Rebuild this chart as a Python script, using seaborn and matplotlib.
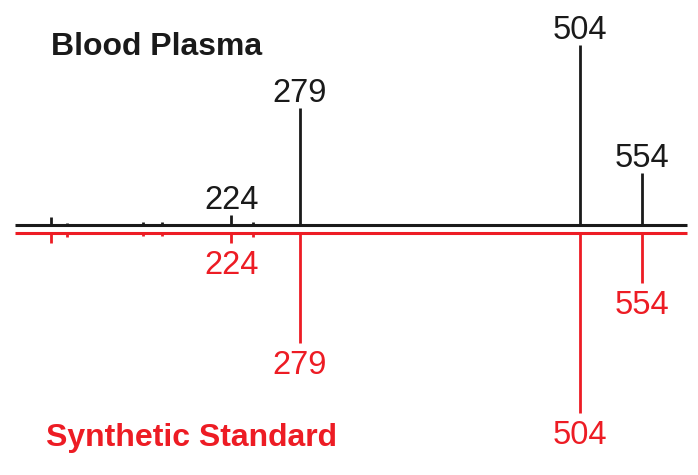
import matplotlib
matplotlib.use("Agg")
import matplotlib.pyplot as plt
import seaborn as sns
import numpy as np

# m/z range of the spectrum baseline
mz_range = [50, 590]

# Blood plasma spectrum (relative intensity, %)
plasma_mz = [79, 92, 122, 153, 168, 224, 241, 279, 504, 554]
plasma_int = [4.4, 1.1, 0.6, 1.7, 1.7, 5.6, 1.7, 65, 100, 29]

# Synthetic standard spectrum (relative intensity, %), drawn downwards
standard_mz = [79, 92, 153, 168, 224, 241, 279, 504, 554]
standard_int = [5.5, 2.2, 1.6, 1.6, 5.5, 2.0, 61, 100, 28]

labelled = [224, 279, 504, 554]

black = "#1a1a1a"
red = "#ED1C24"

sns.set_theme(style="white")
plt.rcParams["font.family"] = ["Liberation Sans", "DejaVu Sans"]

fig = plt.figure(figsize=(6.98, 4.75), dpi=100)
ax = fig.add_axes([0, 0, 1, 1])

px = 1.8          # pixels per % intensity
red_off = -8 / px  # red baseline sits a few pixels below the black one

# baselines
ax.hlines(0, mz_range[0], mz_range[1], color=black, lw=2.2)
ax.hlines(red_off, mz_range[0], mz_range[1], color=red, lw=2.2)

# stems
ax.vlines(plasma_mz, 0, plasma_int, color=black, lw=2.0)
ax.vlines(standard_mz, red_off, red_off - np.array(standard_int), color=red, lw=2.0)

# peak labels
for mz, h in zip(plasma_mz, plasma_int):
    if mz in labelled:
        ax.annotate(str(mz), (mz, h), xytext=(0, 4), textcoords="offset points",
                    ha="center", va="baseline", fontsize=23.5, color=black)
for mz, h in zip(standard_mz, standard_int):
    if mz in labelled:
        ax.annotate(str(mz), (mz, red_off - h), xytext=(0, -5), textcoords="offset points",
                    ha="center", va="top", fontsize=23.5, color=red)

ax.text(0.073, 0.884, "Blood Plasma", transform=ax.transAxes, ha="left",
        va="baseline", fontsize=23, fontweight="bold", color=black)
ax.text(0.066, 0.061, "Synthetic Standard", transform=ax.transAxes, ha="left",
        va="baseline", fontsize=23, fontweight="bold", color=red)

ax.set_xlim(38, 599)
ax.set_ylim(-250 / px, 225 / px)
ax.set_xticks([])
ax.set_yticks([])
sns.despine(ax=ax, left=True, bottom=True)

fig.savefig("out.png", dpi=100)
